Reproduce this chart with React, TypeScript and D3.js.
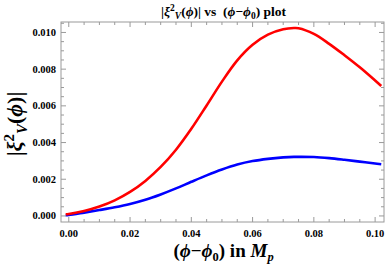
import * as d3 from "d3";

// phi - phi0 sample points (M_p)
const xs = [-0.001, 0, 0.005, 0.01, 0.015, 0.02, 0.025, 0.03, 0.035, 0.04, 0.045, 0.05, 0.055, 0.06, 0.065, 0.07, 0.0735, 0.075, 0.08, 0.085, 0.09, 0.095, 0.1, 0.102];
const redVals = [0.00009, 0.00011, 0.00027, 0.00051, 0.00085, 0.00131, 0.00191, 0.00267, 0.00361, 0.00475, 0.00602, 0.00732, 0.00848, 0.00933, 0.00988, 0.01017, 0.01024, 0.01023, 0.00992, 0.00938, 0.00876, 0.0081, 0.00738, 0.00708];
const blueVals = [0.00004, 0.00005, 0.00018, 0.00032, 0.00047, 0.00065, 0.00088, 0.00117, 0.0015, 0.00186, 0.00221, 0.00253, 0.0028, 0.00299, 0.00311, 0.00319, 0.00322, 0.00322, 0.00321, 0.00315, 0.00306, 0.00296, 0.00286, 0.00282];

const xMajor = [0, 0.02, 0.04, 0.06, 0.08, 0.1];
const yMajor = [0, 0.002, 0.004, 0.006, 0.008, 0.01];

const width = 387;
const height = 272;
const left = 61;
const right = 384;
const top = 22;
const bottom = 222;
const font = "'Liberation Serif', 'Times New Roman', serif";
const frameColor = "#9a9a9a";

const App = () => {
  const x = d3.scaleLinear().domain([-0.00254, 0.1029]).range([left, right]);
  const y = d3.scaleLinear().domain([-0.00033, 0.01057]).range([bottom, top]);

  const xMinor = d3.range(0, 0.1026, 0.005).filter((v) => !xMajor.some((m) => Math.abs(m - v) < 1e-9));
  const yMinor = d3.range(0, 0.01051, 0.0005).filter((v) => !yMajor.some((m) => Math.abs(m - v) < 1e-9));

  const line = d3
    .line<number>()
    .x((d, i) => x(xs[i]))
    .y((d) => y(d))
    .curve(d3.curveCatmullRom.alpha(0.5));

  return (
    <svg
      width={width}
      height={height}
      style={{ position: "absolute", left: 0, top: 0, background: "#fff" }}
      fontFamily={font}
    >
      {/* title */}
      <text x={(left + right) / 2 + 1} y={16} textAnchor="middle" fontSize={13.5} fontWeight="bold">
        |<tspan fontStyle="italic">ξ</tspan>
        <tspan fontSize={9.5} dy={-5}>2</tspan>
        <tspan fontSize={9.5} dy={8} fontStyle="italic">V</tspan>
        <tspan dy={-3}>(</tspan>
        <tspan fontStyle="italic">ϕ</tspan>)| vs {"\u00a0"}(<tspan fontStyle="italic">ϕ</tspan>−<tspan fontStyle="italic">ϕ</tspan>
        <tspan fontSize={9.5} dy={3}>0</tspan>
        <tspan dy={-3}>) plot</tspan>
      </text>

      {/* frame */}
      <rect x={left} y={top} width={right - left} height={bottom - top} fill="none" stroke={frameColor} strokeWidth={1} />

      {/* ticks */}
      {xMajor.map((v) => (
        <g key={"xM" + v}>
          <line x1={x(v)} x2={x(v)} y1={bottom} y2={bottom - 5} stroke={frameColor} />
          <line x1={x(v)} x2={x(v)} y1={top} y2={top + 5} stroke={frameColor} />
          <text x={x(v)} y={237} textAnchor="middle" fontSize={10.5} fontWeight="bold">
            {d3.format(".2f")(v)}
          </text>
        </g>
      ))}
      {xMinor.map((v) => (
        <g key={"xm" + v}>
          <line x1={x(v)} x2={x(v)} y1={bottom} y2={bottom - 3} stroke={frameColor} />
          <line x1={x(v)} x2={x(v)} y1={top} y2={top + 3} stroke={frameColor} />
        </g>
      ))}
      {yMajor.map((v) => (
        <g key={"yM" + v}>
          <line x1={left} x2={left + 5} y1={y(v)} y2={y(v)} stroke={frameColor} />
          <line x1={right} x2={right - 5} y1={y(v)} y2={y(v)} stroke={frameColor} />
          <text x={56} y={y(v) + 3.5} textAnchor="end" fontSize={10.5} fontWeight="bold">
            {d3.format(".3f")(v)}
          </text>
        </g>
      ))}
      {yMinor.map((v) => (
        <g key={"ym" + v}>
          <line x1={left} x2={left + 3} y1={y(v)} y2={y(v)} stroke={frameColor} />
          <line x1={right} x2={right - 3} y1={y(v)} y2={y(v)} stroke={frameColor} />
        </g>
      ))}

      {/* curves */}
      <path d={line(blueVals) ?? ""} fill="none" stroke="#0000ff" strokeWidth={2.6} />
      <path d={line(redVals) ?? ""} fill="none" stroke="#ff0000" strokeWidth={2.6} />

      {/* axis labels */}
      <text
        transform={`translate(22, ${(top + bottom) / 2 + 2}) rotate(-90)`}
        textAnchor="middle"
        fontSize={22}
        fontWeight="bold"
      >
        |<tspan fontStyle="italic">ξ</tspan>
        <tspan fontSize={15} dy={-8}>2</tspan>
        <tspan fontSize={15} dy={13} fontStyle="italic">V</tspan>
        <tspan dy={-5}>(</tspan>
        <tspan fontStyle="italic">ϕ</tspan>)|
      </text>
      <text x={(left + right) / 2 + 1} y={257} textAnchor="middle" fontSize={19} fontWeight="bold">
        (<tspan fontStyle="italic">ϕ</tspan>−<tspan fontStyle="italic">ϕ</tspan>
        <tspan fontSize={12.5} dy={4}>0</tspan>
        <tspan dy={-4}>) in </tspan>
        <tspan fontStyle="italic">M</tspan>
        <tspan fontSize={12.5} dy={4} fontStyle="italic">p</tspan>
      </text>
    </svg>
  );
};

export default App;
